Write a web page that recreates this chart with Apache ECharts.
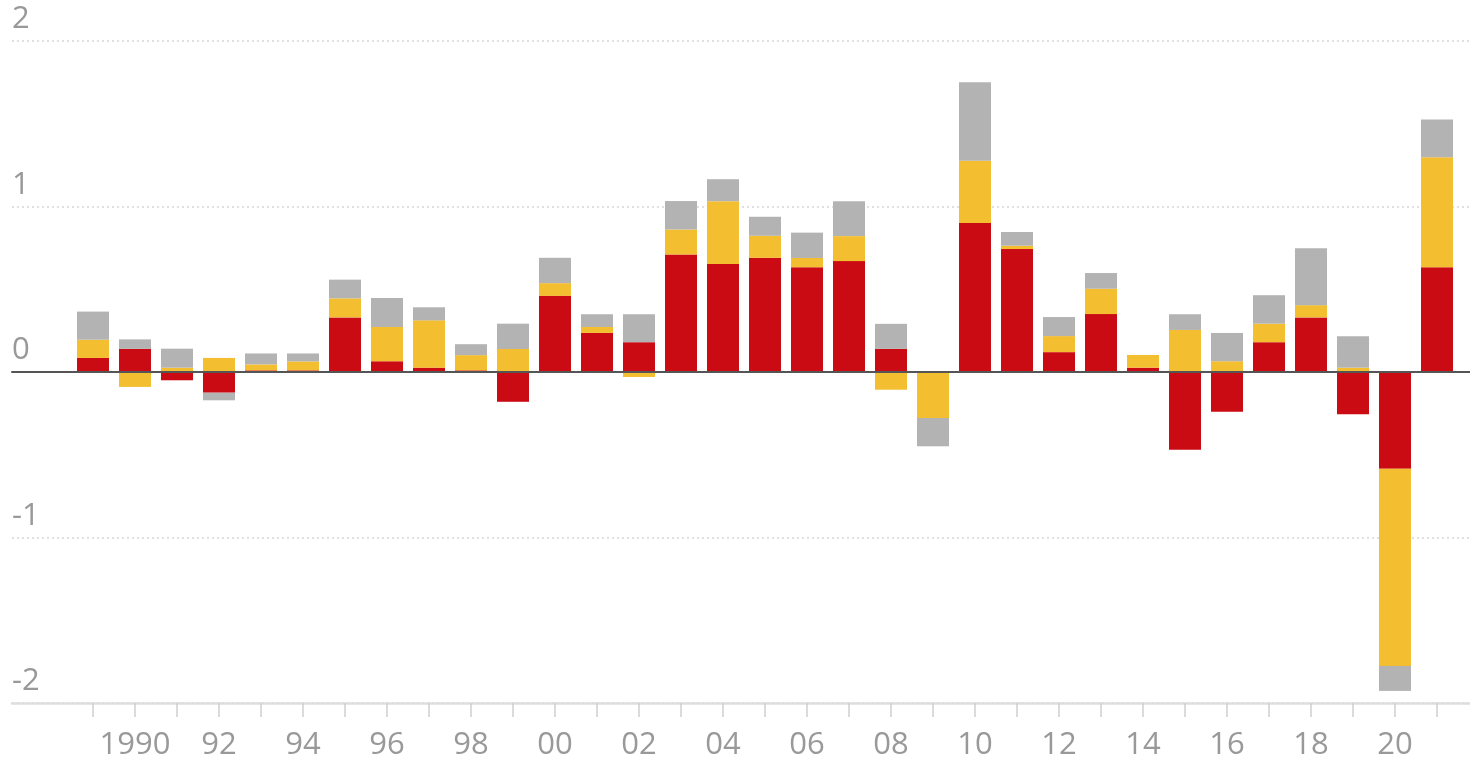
<!DOCTYPE html>
<html>
<head>
<meta charset="utf-8">
<title>Chart</title>
<script src="https://cdn.jsdelivr.net/npm/echarts@6/dist/echarts.min.js"></script>
<style>
    html, body { margin: 0; padding: 0; background: #fff; }
    #chart { width: 1470px; height: 763px; }
</style>
</head>
<body>
<div id="chart"></div>
<script>
// 年份
var years = ['1989', '1990', '1991', '1992', '1993', '1994', '1995', '1996', '1997', '1998',
    '1999', '2000', '2001', '2002', '2003', '2004', '2005', '2006', '2007', '2008',
    '2009', '2010', '2011', '2012', '2013', '2014', '2015', '2016', '2017', '2018',
    '2019', '2020', '2021'];

// 红色部分
var redValues = [0.085, 0.14, -0.05, -0.125, 0.01, 0.01, 0.33, 0.065, 0.026, 0.01,
    -0.18, 0.46, 0.236, 0.18, 0.71, 0.653, 0.69, 0.633, 0.67, 0.14,
    0, 0.9, 0.743, 0.12, 0.35, 0.026, -0.47, -0.24, 0.18, 0.33,
    -0.256, -0.584, 0.633];

// 黄色部分
var yellowValues = [0.11, -0.09, 0.026, 0.085, 0.036, 0.054, 0.115, 0.207, 0.286, 0.092,
    0.139, 0.077, 0.036, -0.03, 0.151, 0.379, 0.133, 0.056, 0.151, -0.107,
    -0.278, 0.376, 0.02, 0.097, 0.153, 0.077, 0.254, 0.065, 0.112, 0.074,
    0.026, -1.192, 0.665];

// 灰色部分
var grayValues = [0.17, 0.057, 0.115, -0.046, 0.066, 0.048, 0.113, 0.175, 0.079, 0.066,
    0.153, 0.153, 0.077, 0.169, 0.172, 0.133, 0.115, 0.153, 0.21, 0.151,
    -0.171, 0.475, 0.083, 0.115, 0.095, 0, 0.095, 0.171, 0.172, 0.344,
    0.19, -0.151, 0.227];

// y轴刻度
var yTicks = [-2, -1, 0, 1, 2];

var textColor = '#999';
var fontFamily = '"Open Sans", "Noto Sans", sans-serif';

var myChart = echarts.init(document.getElementById('chart'));

var option = {
    animation: false,
    textStyle: { fontFamily: fontFamily },
    grid: [
        // 背景网格线（全宽）
        { left: 12, right: 0, top: 41, height: 662 },
        // 柱子
        { left: 72, right: 12, top: 41, height: 662 }
    ],
    xAxis: [
        {
            gridIndex: 0,
            type: 'value',
            min: 0,
            max: 1,
            position: 'bottom',
            axisLine: { show: true, onZero: false, lineStyle: { color: '#dedede', width: 2.5 } },
            axisTick: { show: false },
            axisLabel: { show: false },
            splitLine: { show: false }
        },
        {
            gridIndex: 1,
            type: 'category',
            data: years,
            axisLine: { show: false, onZero: false },
            axisTick: {
                show: true,
                interval: 0,
                alignWithLabel: true,
                length: 14,
                lineStyle: { color: '#d0d0d0', width: 1.5 }
            },
            axisLabel: {
                interval: function (index) {
                    return index % 2 === 1;
                },
                formatter: function (value) {
                    return value === '1990' ? value : value.slice(2);
                },
                margin: 27,
                fontSize: 31,
                color: textColor,
                fontFamily: fontFamily
            },
            splitLine: { show: false }
        },
        {
            // 零线
            gridIndex: 0,
            type: 'value',
            min: 0,
            max: 1,
            position: 'top',
            z: 10,
            axisLine: { show: true, onZero: true, lineStyle: { color: '#555', width: 2 } },
            axisTick: { show: false },
            axisLabel: { show: false },
            splitLine: { show: false }
        }
    ],
    yAxis: [
        {
            gridIndex: 0,
            type: 'value',
            min: yTicks[0],
            max: yTicks[yTicks.length - 1],
            interval: 1,
            axisLine: { show: false },
            axisTick: { show: false },
            axisLabel: {
                inside: true,
                margin: 0,
                verticalAlign: 'bottom',
                padding: [0, 0, 6, 0],
                fontSize: 31,
                color: textColor,
                fontFamily: fontFamily
            },
            splitLine: {
                show: true,
                lineStyle: { color: '#d6d6d6', width: 1.5, type: [2, 3] }
            }
        },
        {
            gridIndex: 1,
            type: 'value',
            min: yTicks[0],
            max: yTicks[yTicks.length - 1],
            interval: 1,
            show: false
        }
    ],
    series: [
        {
            name: 'red',
            type: 'bar',
            stack: 'total',
            xAxisIndex: 1,
            yAxisIndex: 1,
            barWidth: 32,
            itemStyle: { color: '#cb0b14' },
            data: redValues
        },
        {
            name: 'yellow',
            type: 'bar',
            stack: 'total',
            xAxisIndex: 1,
            yAxisIndex: 1,
            barWidth: 32,
            itemStyle: { color: '#f3be2f' },
            data: yellowValues
        },
        {
            name: 'gray',
            type: 'bar',
            stack: 'total',
            xAxisIndex: 1,
            yAxisIndex: 1,
            barWidth: 32,
            itemStyle: { color: '#b3b3b3' },
            data: grayValues
        }
    ]
};

myChart.setOption(option);
</script>
</body>
</html>
